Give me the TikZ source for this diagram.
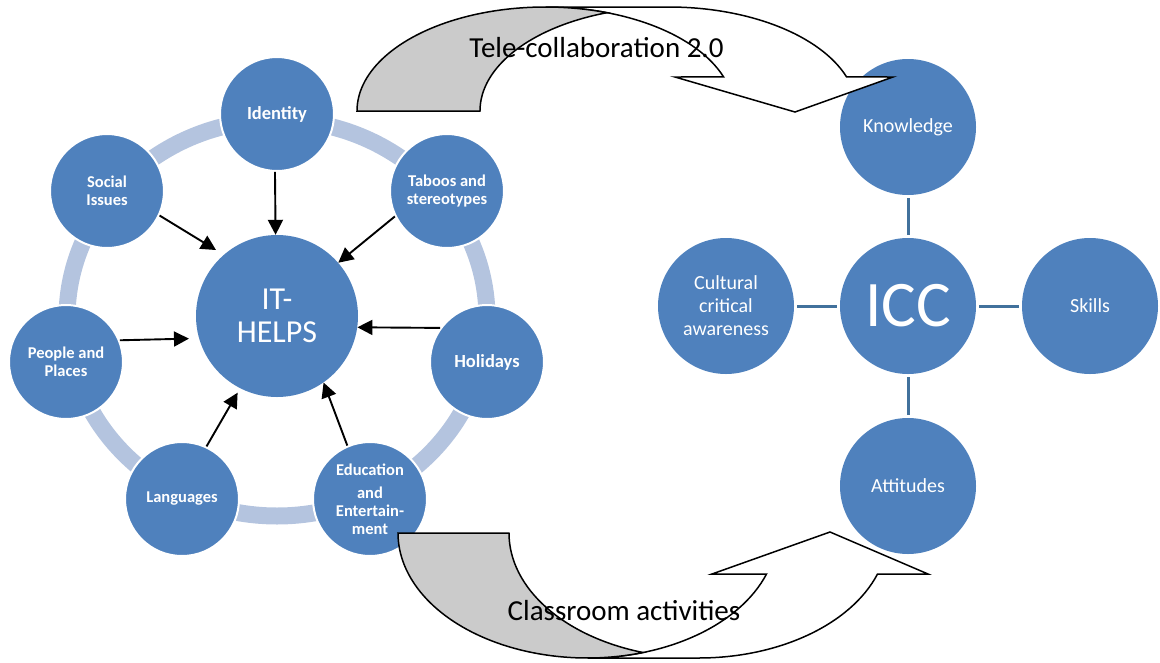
\documentclass[tikz,border=0pt]{standalone}
\usepackage{fontspec}
\setmainfont{Carlito}
\usetikzlibrary{arrows.meta,calc}
\definecolor{nodeblue}{HTML}{4F81BD}
\definecolor{ringblue}{HTML}{B4C4DF}
\definecolor{linkblue}{HTML}{41719C}
\definecolor{backgray}{HTML}{CBCBCB}
\begin{document}
\begin{tikzpicture}[x=1pt,y=-1pt,
  topic/.style={circle, fill=nodeblue, draw=white, line width=2pt,
    minimum size=114pt, inner sep=0pt,
    text=white, align=center, font=\bfseries\fontsize{16.5}{18}\selectfont},
  bigtopic/.style={topic, font=\bfseries\fontsize{18.5}{20}\selectfont},
  hubnode/.style={circle, fill=nodeblue, minimum size=162pt, inner sep=0pt,
    text=white, align=center, font=\fontsize{32}{33}\selectfont},
  part/.style={circle, fill=nodeblue, minimum size=136pt, inner sep=0pt,
    text=white, align=center, font=\fontsize{20}{23}\selectfont},
  corenode/.style={part, font=\fontsize{65}{70}\selectfont},
  feeds/.style={draw=black, line width=1.9pt, -{Triangle[length=15pt,width=15pt]}},
  link/.style={draw=linkblue, line width=3pt, shorten <=3pt, shorten >=3pt},
  uturn/.style={draw=black, line width=1.5pt, line join=miter},
  caption/.style={anchor=base, text=black, font=\fontsize{29}{32}\selectfont},
]
\useasboundingbox (0,0) rectangle (1160,662);

% light ring linking the seven topics
\draw[ringblue, line width=17pt] (277,318) ellipse [x radius=210, y radius=198];

% IT-HELPS cycle
\node[hubnode] (hub) at (277,316) {IT-\\HELPS};
\node[bigtopic] (id) at (277,114) {Identity};
\node[topic] (soc) at (107,191) {Social\\Issues};
\node[topic] (tab) at (447,191) {Taboos and\\stereotypes};
\node[topic] (ppl) at (66,362) {People and\\Places};
\node[bigtopic] (hol) at (487,362) {Holidays};
\node[topic] (lang) at (182,499) {Languages};
\node[topic] (edu) at (370,499) {Education\\[5pt]and\\Entertain-\\ment};

\draw[feeds] (id.-92) -- (hub.91.5);
\draw[feeds, shorten >=9pt] (soc.-25.6) -- (hub.131);
\draw[feeds] (tab.206) -- (hub.41.5);
\draw[feeds, shorten >=10pt] (ppl.22) -- (hub.196.6);
\draw[feeds] (hol.144) -- (hub.-8.4);
\draw[feeds, shorten >=5pt] (lang.65.7) -- (hub.243);
\draw[feeds] (edu.113) -- (hub.-55.7);

% ICC components
\node[corenode] (icc) at (908,306) {ICC};
\node[part] (know) at (908,127) {Knowledge};
\node[part] (crit) at (726,306) {Cultural\\critical\\awareness};
\node[part] (skill) at (1090,306) {Skills};
\node[part] (att) at (908,486) {Attitudes};

\draw[link] (know) -- (icc);
\draw[link] (crit) -- (icc);
\draw[link] (skill) -- (icc);
\draw[link] (att) -- (icc);

% curved arrow over the top (two equal ellipses, shifted by the band width)
\coordinate (tA) at (545.5,111);
\coordinate (tB) at (668.5,111);
\filldraw[fill=white, uturn]
  ($(tA)+(340.9:188.5 and 104)$)
  arc[start angle=340.9, end angle=270, x radius=188.5, y radius=104]
  -- ($(tB)+(270:188.5 and 104)$)
  arc[start angle=270, end angle=340.9, x radius=188.5, y radius=104]
  -- (893,77) -- (795,112) -- (675,77) -- cycle;
\filldraw[fill=backgray, uturn]
  ($(tA)+(180:188.5 and 104)$)
  arc[start angle=180, end angle=289.04, x radius=188.5, y radius=104]
  arc[start angle=250.96, end angle=180, x radius=188.5, y radius=104]
  -- cycle;

% curved arrow underneath
\coordinate (bA) at (587.5,533);
\coordinate (bB) at (698.5,533);
\filldraw[fill=white, uturn]
  ($(bA)+(19.15:189.5 and 125)$)
  arc[start angle=19.15, end angle=90, x radius=189.5, y radius=125]
  -- ($(bB)+(90:189.5 and 125)$)
  arc[start angle=90, end angle=19.15, x radius=189.5, y radius=125]
  -- (928,574) -- (830,532) -- (712,574) -- cycle;
\filldraw[fill=backgray, uturn]
  ($(bA)+(180:189.5 and 125)$)
  arc[start angle=180, end angle=72.97, x radius=189.5, y radius=125]
  arc[start angle=107.03, end angle=180, x radius=189.5, y radius=125]
  -- cycle;

\node[caption] (tele) at (596.5,57) {Tele-collaboration 2.0};
\node[caption] (class) at (624,620) {Classroom activities};
\end{tikzpicture}
\end{document}
